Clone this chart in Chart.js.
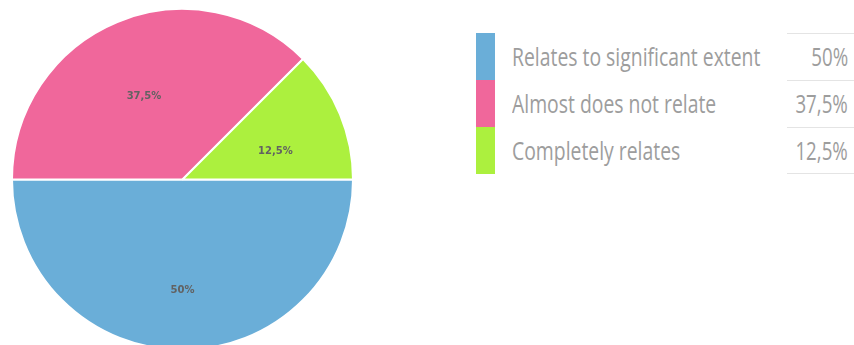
<!DOCTYPE html>
<html lang="en">
  <head>
    <meta charset="UTF-8" />
    <meta name="viewport" content="width=device-width, initial-scale=1.0" />
    <title>Relation survey</title>
    <script src="https://cdn.jsdelivr.net/npm/chart.js"></script>
    <style>
      html,
      body {
        margin: 0;
        padding: 0;
        background-color: #ffffff;
        width: 854px;
        height: 345px;
        overflow: hidden;
      }
      #pieBox {
        position: absolute;
        left: 11px;
        top: 8px;
        width: 343px;
        height: 343px;
      }
      #legend {
        position: absolute;
        left: 476px;
        top: 33px;
        width: 378px;
        font-family: "Open Sans", sans-serif;
        color: #9d9d9d;
      }
      .row {
        position: relative;
        height: 47px;
      }
      .swatch {
        position: absolute;
        left: 0;
        top: 0;
        width: 19px;
        height: 47px;
      }
      .label,
      .value {
        position: absolute;
        top: 0;
        font-size: 26px;
        line-height: 47px;
        white-space: nowrap;
      }
      .label {
        left: 36px;
        transform: scaleX(0.745);
        transform-origin: left center;
      }
      .value {
        right: 6px;
        transform: scaleX(0.72);
        transform-origin: right center;
      }
      .rule {
        position: absolute;
        left: 311px;
        right: 0;
        top: 0;
        border-top: 1px solid #e4e4e4;
      }
      .rule.bottom {
        top: auto;
        bottom: 0;
      }
    </style>
  </head>
  <body>
    <div id="pieBox"><canvas id="pieChart"></canvas></div>
    <div id="legend"></div>

    <script>
      const categories = [
        "Relates to significant extent",
        "Almost does not relate",
        "Completely relates",
      ];
      const shares = [50, 37.5, 12.5];
      const colors = ["#6aaed8", "#f0679b", "#acf03e"];

      // 37.5 -> "37,5%"
      function asPercent(v) {
        return String(v).replace(".", ",") + "%";
      }

      // percentage drawn inside each slice, a little below the radial midpoint
      const sliceLabels = {
        id: "sliceLabels",
        afterDatasetsDraw(chart) {
          const ctx = chart.ctx;
          const meta = chart.getDatasetMeta(0);
          ctx.save();
          ctx.font = 'bold 10px "DejaVu Sans", sans-serif';
          ctx.fillStyle = "#626262";
          ctx.textAlign = "center";
          ctx.textBaseline = "middle";
          meta.data.forEach((arc, i) => {
            const p = arc.getProps(
              ["x", "y", "startAngle", "endAngle", "outerRadius"],
              true
            );
            const mid = (p.startAngle + p.endAngle) / 2;
            const r = p.outerRadius * 0.59;
            ctx.fillText(
              asPercent(shares[i]),
              p.x + Math.cos(mid) * r,
              p.y + Math.sin(mid) * r + 10
            );
          });
          ctx.restore();
        },
      };

      new Chart(document.getElementById("pieChart"), {
        type: "pie",
        data: {
          labels: categories,
          datasets: [
            {
              data: shares,
              backgroundColor: colors,
              borderColor: "#ffffff",
              borderWidth: 2,
            },
          ],
        },
        options: {
          responsive: true,
          maintainAspectRatio: false,
          animation: false,
          rotation: 90,
          layout: { padding: 0 },
          plugins: {
            legend: { display: false },
            tooltip: { enabled: false },
          },
        },
        plugins: [sliceLabels],
      });

      // legend table on the right
      const legend = document.getElementById("legend");
      categories.forEach((name, i) => {
        const row = document.createElement("div");
        row.className = "row";
        row.innerHTML =
          `<div class="swatch" style="background:${colors[i]}"></div>` +
          `<div class="label">${name}</div>` +
          `<div class="value">${asPercent(shares[i])}</div>` +
          `<div class="rule"></div>` +
          (i === categories.length - 1 ? `<div class="rule bottom"></div>` : "");
        legend.appendChild(row);
      });
    </script>
  </body>
</html>
